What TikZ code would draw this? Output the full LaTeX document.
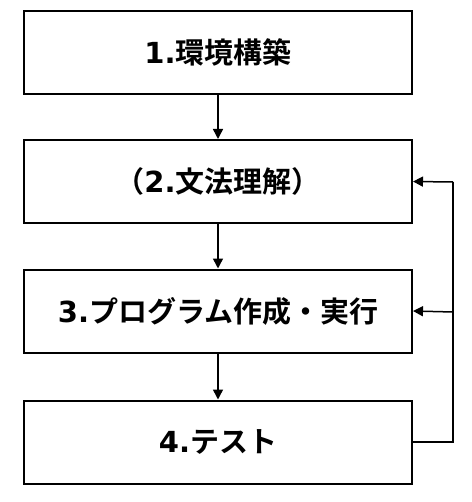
\documentclass[tikz,border=0pt]{standalone}
\usepackage{fontspec}
\newfontfamily\jp{Noto Sans CJK JP}[BoldFont={* Bold}]
\newfontfamily\lat{DejaVu Sans}
\usetikzlibrary{arrows.meta}
\begin{document}
\begin{tikzpicture}[x=1pt,y=-1pt,
  stepbox/.style={draw=black,line width=2pt,minimum width=388pt,minimum height=83pt,inner sep=0pt,font=\jp\bfseries\fontsize{29}{33}\selectfont},
  conn/.style={line width=1.5pt,-{Triangle[length=10pt,width=10pt]}}]
\useasboundingbox (0,0) rectangle (471,502);
\node[stepbox] (b1) at (218,52.5) {{\lat\bfseries 1.}環境構築};
\node[stepbox] (b2) at (218,181.5) {（{\lat\bfseries 2.}文法理解）};
\node[stepbox] (b3) at (218,311) {{\lat\bfseries 3.}プログラム作成・実行};
\node[stepbox] (b4) at (218,442) {{\lat\bfseries 4.}テスト};
\coordinate (c4) at (453,442);
\coordinate (c2) at (453,182);
\coordinate (c3) at (453,312);
\draw[conn] (b1.south) -- (b2.north);
\draw[conn] (b2.south) -- (b3.north);
\draw[conn] (b3.south) -- (b4.north);
\draw[line width=1.5pt] (b4.east) -- (c4) -- (c2);
\draw[conn] (c2) -- (b2.east);
\draw[conn] (c3) -- (b3.east);
\end{tikzpicture}
\end{document}
